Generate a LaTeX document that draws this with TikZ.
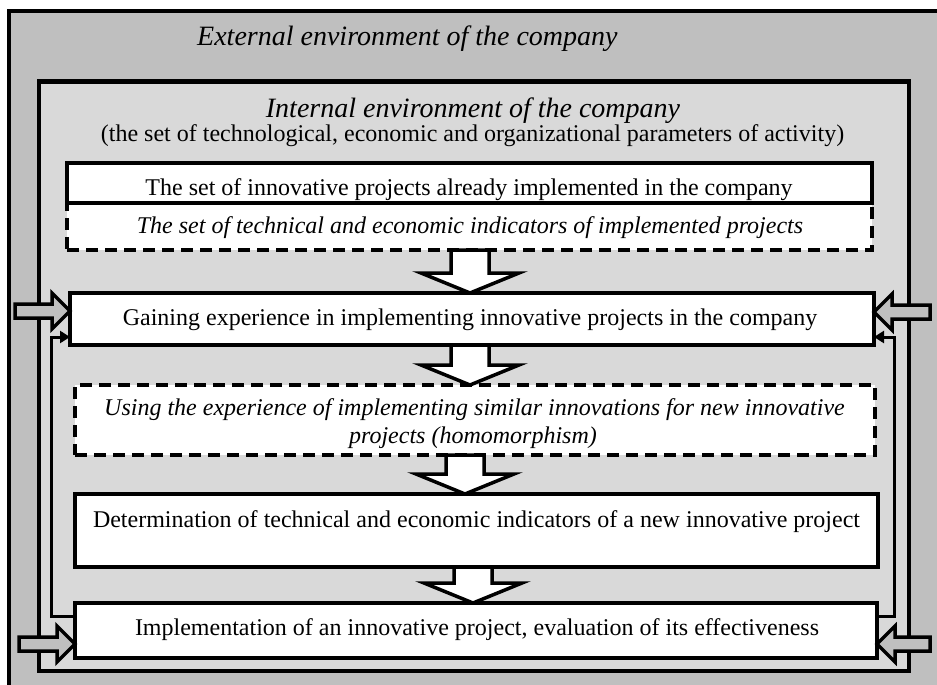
\documentclass[tikz,border=0pt]{standalone}
\usepackage{fontspec}
\setmainfont{Liberation Serif}
\usetikzlibrary{arrows.meta,calc}
\definecolor{outergray}{RGB}{191,191,191}
\definecolor{innergray}{RGB}{217,217,217}

% hollow block arrow pointing down, from the bottom of #1 to the top of #2, axis at x=#3
\newcommand\flowdown[3]{%
  \draw[blockdown] let \p1=(#1.south), \p2=(#2.north) in
    (#3pt-19pt,\y1) -- (#3pt+19pt,\y1) -- (#3pt+19pt,\y2+20pt) -- (#3pt+49pt,\y2+20pt)
    -- (#3pt,\y2) -- (#3pt-49pt,\y2+20pt) -- (#3pt-19pt,\y2+20pt) -- cycle;}
% grey block arrow with its tip at #1, tail at x=#2; #3 = 1 points right, -1 points left
\newcommand\pushin[3]{%
  \draw[blockside] let \p1=(#1), \n1={#3*18} in
    (\x1,\y1) -- ({\x1-\n1*1pt},\y1+18pt) -- ({\x1-\n1*1pt},\y1+7pt) -- (#2pt,\y1+7pt)
    -- (#2pt,\y1-7pt) -- ({\x1-\n1*1pt},\y1-7pt) -- ({\x1-\n1*1pt},\y1-18pt) -- cycle;}

\begin{document}
\begin{tikzpicture}[x=1pt,y=-1pt,
  frame/.style={draw=black,line width=4pt},
  solidbox/.style={draw=black,fill=white,line width=3.5pt,rectangle,inner sep=0pt,outer sep=0pt},
  dashbox/.style={solidbox,dash pattern=on 12pt off 7pt},
  txt/.style={font=\fontsize{24}{28}\selectfont,anchor=base,inner sep=0pt},
  itxt/.style={font=\fontsize{24}{28}\selectfont\itshape,anchor=base,inner sep=0pt},
  ttl/.style={font=\fontsize{28}{32}\selectfont\itshape,anchor=base,inner sep=0pt},
  blockdown/.style={draw=black,fill=white,line width=3.5pt},
  blockside/.style={draw=black,fill=outergray,line width=3.5pt},
  loopback/.style={draw=black,line width=3pt,-{Triangle[length=10pt,width=12pt]}}
]
\path[use as bounding box] (0,0) rectangle (937,685);
\fill[white] (0,0) rectangle (937,685);
\clip (0,0) rectangle (937,685);

% environments
\draw[frame,fill=outergray] (9,11) rectangle (960,720);
\draw[frame,fill=innergray] (38.5,81.5) rectangle (908.5,670.5);
\node[ttl,anchor=base west] (ext) at (197,46) {External environment of the company};
\node[ttl] (int) at (473,117) {Internal environment of the company};
\node[txt] (intsub) at (472.5,141) {(the set of technological, economic and organizational parameters of activity)};

% boxes
\node[solidbox,minimum width=805,minimum height=40] (b1) at (469.5,183) {};
\node[txt] (t1) at (469,195) {The set of innovative projects already implemented in the company};
\node[dashbox,minimum width=805,minimum height=47] (b2) at (469.5,226.5) {};
\draw[line width=3.5pt] (b1.south west) -- (b1.south east);
\node[itxt] (t2) at (470,233) {The set of technical and economic indicators of implemented projects};

\node[solidbox,minimum width=804,minimum height=52] (b3) at (472,319) {};
\node[txt] (t3) at (470,325) {Gaining experience in implementing innovative projects in the company};

\node[dashbox,minimum width=800,minimum height=70] (b4) at (475,420) {};
\node[itxt] (t4a) at (474.5,415) {Using the experience of implementing similar innovations for new innovative};
\node[itxt] (t4b) at (473,443) {projects (homomorphism)};

\node[solidbox,minimum width=803,minimum height=73] (b5) at (476.5,530.5) {};
\node[txt] (t5) at (476.5,527) {\makebox[767pt][s]{Determination of technical and economic indicators of a new innovative project}};

\node[solidbox,minimum width=802,minimum height=55] (b6) at (476,630.5) {};
\node[txt] (t6) at (477,635) {Implementation of an innovative project, evaluation of its effectiveness};

% main flow
\flowdown{b2}{b3}{470}
\flowdown{b3}{b4}{470}
\flowdown{b4}{b5}{465}
\flowdown{b5}{b6}{473}

% feedback from implementation back to experience
\draw[loopback] ($(b6.west)+(0,-14.5)$) -- ++(-24,0) |- ($(b3.west)+(0,18)$);
\draw[loopback] ($(b6.east)+(0,-14.5)$) -- ++(17,0) |- ($(b3.east)+(0,18)$);

% external influences
\pushin{$(b3.west)+(0,-8)$}{15}{1}
\pushin{$(b3.east)+(0,-7)$}{930}{-1}
\pushin{$(b6.west)+(0,13.5)$}{19}{1}
\pushin{$(b6.east)+(0,13.5)$}{930}{-1}
\end{tikzpicture}
\end{document}
